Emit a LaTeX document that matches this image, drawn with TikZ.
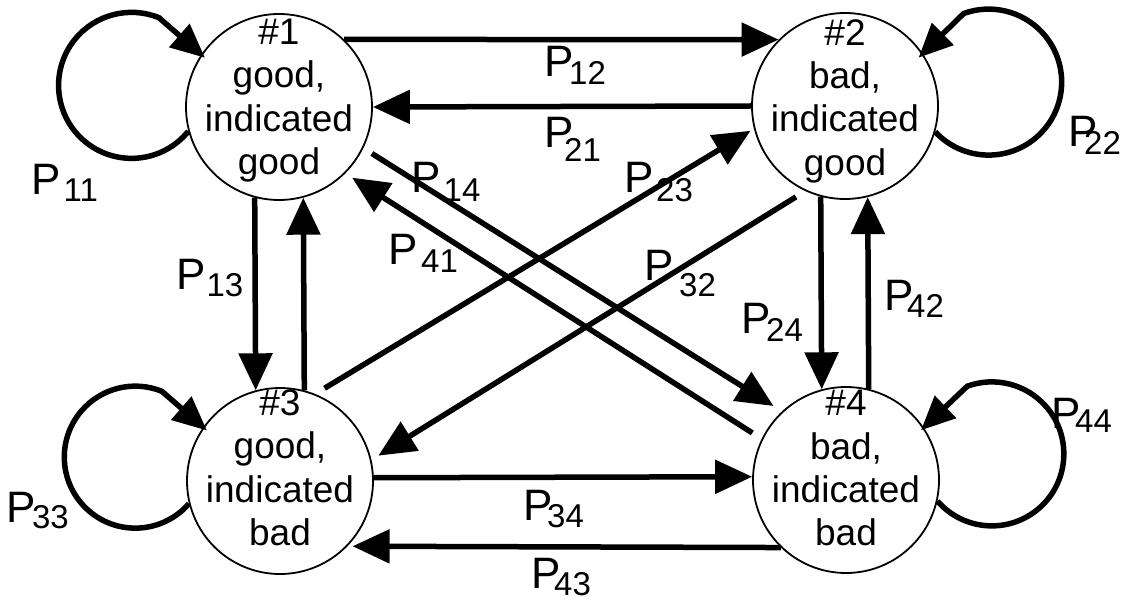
\documentclass[tikz,border=0pt]{standalone}
\usepackage{fontspec}
\setmainfont{Liberation Sans}
\usetikzlibrary{arrows.meta}
\newcommand\stfnt{\fontsize{37}{43.3}\selectfont}
\newcommand\lbfnt{\fontsize{44}{44}\selectfont}
\newcommand\sbfnt{\fontsize{33}{33}\selectfont}
\newcommand\plab[3]{P\kern#1pt\raisebox{-#2pt}{\sbfnt #3}}
\tikzset{
  state/.style={circle, draw, line width=1.8pt, minimum size=186pt, inner sep=0pt},
  stext/.style={align=center, font=\stfnt, inner sep=0pt},
  conn/.style={line width=5.5pt, -{Triangle[length=37pt,width=33pt]}},
  loopl/.style={line width=5.5pt, -{Triangle[length=34pt,width=30pt]}},
  lab/.style={font=\lbfnt, inner sep=0pt, anchor=base west},
}
\begin{document}
\begin{tikzpicture}[x=1pt,y=1pt]
\fill[white] (0,0) rectangle (1126,-601);
\useasboundingbox (0,0) rectangle (1126,-601);
% states
\node[state] (s1) at (279,-107) {};
\node[state] (s2) at (845,-106) {};
\node[state] (s3) at (280,-481) {};
\node[state] (s4) at (846,-480) {};
\node[stext] (t1) at (279,-100.6) {\#1\\good,\\indicated\\good};
\node[stext] (t2) at (845,-101) {\#2\\bad,\\indicated\\good};
\node[stext] (t3) at (280,-467.8) {\#3\\good,\\indicated\\bad};
\node[stext] (t4) at (846,-468.3) {\#4\\bad,\\indicated\\bad};
% self loops
\draw[loopl, shorten >=-5pt] (s1.195) arc[start angle=-39, end angle=-292, radius=73] -- (s1.146);
\draw[loopl, shorten >=-6pt] (s2.-16) arc[start angle=-137, end angle=110, radius=73] -- (s2.34);
\draw[loopl, shorten >=-5pt] (s3.194) arc[start angle=-41, end angle=-292, radius=71] -- (s3.145);
\draw[loopl, shorten >=-4pt] (s4.-13) arc[start angle=-139, end angle=110, radius=72] -- (s4.34);
% horizontal
\draw[conn] (s1.46) -- (s2.135);
\draw[conn] (s2.180) -- (s1.0);
\draw[conn] (s3.2) -- (s4.178);
\draw[conn, shorten >=5pt] (s4.226) -- (s3.-44);
% vertical
\draw[conn] (s1.-105) -- (s3.105);
\draw[conn] (s3.75) -- (s1.-75);
\draw[conn] (s2.-105) -- (s4.105);
\draw[conn] (s4.76) -- (s2.-76);
% diagonal
\draw[conn, shorten <=10pt, shorten >=10pt] (s1.-26) -- (s4.133);
\draw[conn, shorten <=11pt, shorten >=8pt] (s4.154) -- (s1.-45);
\draw[conn, shorten <=11pt, shorten >=4pt] (s3.68) -- (s2.194);
\draw[conn, shorten <=11pt, shorten >=8pt] (s2.-115) -- (s3.13);
% labels
\node[lab] (l11) at (31.6,-195) {\plab{2.5}{7}{11}};
\node[lab] (l12) at (544.6,-77) {\plab{-5}{8}{12}};
\node[lab] (l21) at (544.6,-148) {\plab{-10}{14}{21}};
\node[lab] (l22) at (1068.6,-147) {\plab{-14}{8}{22}};
\node[lab] (l13) at (176.6,-290) {\plab{0.5}{7}{13}};
\node[lab] (l14) at (411.6,-193) {\plab{2.5}{9}{14}};
\node[lab] (l41) at (388.6,-265) {\plab{3}{8}{41}};
\node[lab] (l23) at (624.6,-193) {\plab{2}{9}{23}};
\node[lab] (l32) at (644.6,-281) {\plab{5}{16}{32}};
\node[lab] (l24) at (741.6,-334) {\plab{-5}{8}{24}};
\node[lab] (l42) at (884.6,-310) {\plab{-7}{7}{42}};
\node[lab] (l33) at (6.6,-522) {\plab{-4}{6}{33}};
\node[lab] (l34) at (523.6,-520) {\plab{-6}{7}{34}};
\node[lab] (l43) at (531.6,-588) {\plab{-7}{7}{43}};
\node[lab] (l44) at (1051.6,-428) {\plab{-6}{4}{44}};
\end{tikzpicture}
\end{document}
